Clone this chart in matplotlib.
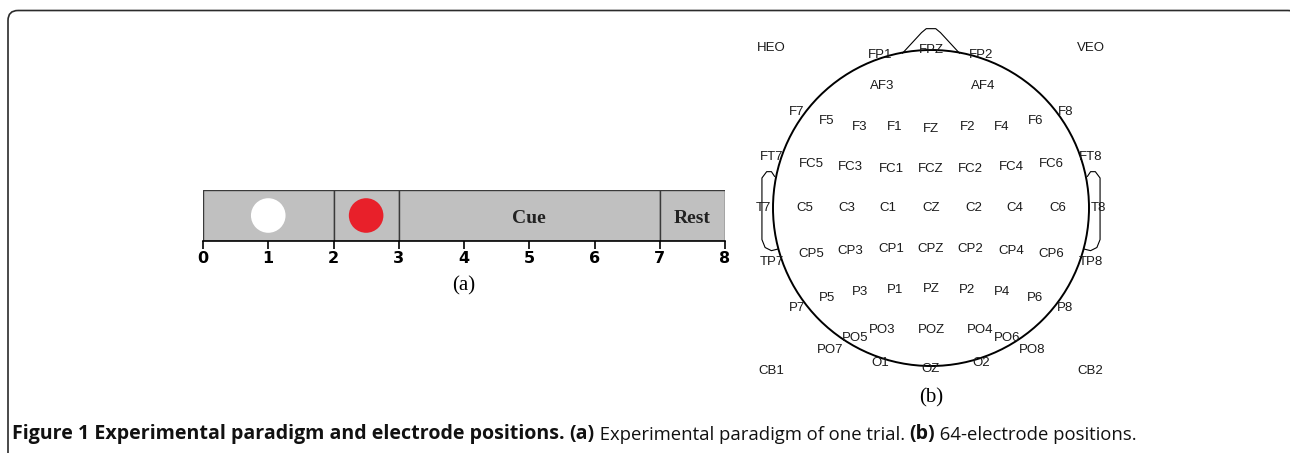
import matplotlib.pyplot as plt
from matplotlib.patches import FancyBboxPatch, Circle

# ---- panel (a): one trial timeline (seconds) ----
seg_start = [0, 2, 3, 7]
seg_width = [2, 1, 4, 1]
seg_label = ['', '', 'Cue', 'Rest']
dot_x = [1, 2.5]
dot_color = ['white', '#e8202a']
time_ticks = [0, 1, 2, 3, 4, 5, 6, 7, 8]

# ---- panel (b): electrode positions (head radius = 1) ----
elec_names = ['HEO', 'FP1', 'FPZ', 'FP2', 'VEO',
              'AF3', 'AF4',
              'F7', 'F5', 'F3', 'F1', 'FZ', 'F2', 'F4', 'F6', 'F8',
              'FT7', 'FC5', 'FC3', 'FC1', 'FCZ', 'FC2', 'FC4', 'FC6', 'FT8',
              'T7', 'C5', 'C3', 'C1', 'CZ', 'C2', 'C4', 'C6', 'T8',
              'TP7', 'CP5', 'CP3', 'CP1', 'CPZ', 'CP2', 'CP4', 'CP6', 'TP8',
              'P7', 'P5', 'P3', 'P1', 'PZ', 'P2', 'P4', 'P6', 'P8',
              'PO7', 'PO5', 'PO3', 'POZ', 'PO4', 'PO6', 'PO8',
              'CB1', 'O1', 'OZ', 'O2', 'CB2']
elec_x = [-1.01, -0.32, 0.0, 0.32, 1.01,
          -0.31, 0.33,
          -0.85, -0.66, -0.45, -0.23, 0.0, 0.23, 0.45, 0.66, 0.85,
          -1.01, -0.76, -0.51, -0.25, 0.0, 0.25, 0.51, 0.76, 1.01,
          -1.06, -0.80, -0.53, -0.27, 0.0, 0.27, 0.53, 0.80, 1.06,
          -1.01, -0.76, -0.51, -0.25, 0.0, 0.25, 0.51, 0.76, 1.01,
          -0.85, -0.66, -0.45, -0.23, 0.0, 0.23, 0.45, 0.66, 0.85,
          -0.64, -0.48, -0.31, 0.0, 0.31, 0.48, 0.64,
          -1.01, -0.32, 0.0, 0.32, 1.01]
elec_y = [1.01, 0.97, 1.00, 0.97, 1.01,
          0.77, 0.77,
          0.61, 0.55, 0.51, 0.51, 0.50, 0.51, 0.51, 0.55, 0.61,
          0.32, 0.28, 0.26, 0.25, 0.25, 0.25, 0.26, 0.28, 0.32,
          0.0, 0.0, 0.0, 0.0, 0.0, 0.0, 0.0, 0.0, 0.0,
          -0.34, -0.29, -0.27, -0.26, -0.26, -0.26, -0.27, -0.29, -0.34,
          -0.63, -0.57, -0.53, -0.52, -0.51, -0.52, -0.53, -0.57, -0.63,
          -0.90, -0.82, -0.77, -0.77, -0.77, -0.82, -0.90,
          -1.03, -0.98, -1.02, -0.98, -1.03]

# outline pieces of the head drawing
nose_x = [-0.18, -0.06, -0.03, 0.03, 0.06, 0.18]
nose_y = [0.98, 1.11, 1.135, 1.135, 1.11, 0.98]
ear_x = [-0.99, -1.01, -1.04, -1.07, -1.07, -1.05, -1.01, -0.97]
ear_y = [0.20, 0.23, 0.23, 0.19, -0.20, -0.25, -0.27, -0.26]

W, H = 1290, 453
fig = plt.figure(figsize=(W / 100, H / 100), dpi=100)

# background axes in pixel units for frame and caption
bg = fig.add_axes([0, 0, 1, 1])
bg.set_xlim(0, W)
bg.set_ylim(H, 0)
bg.axis('off')
frame = FancyBboxPatch((8, 10.5), 1290, 470,
                       boxstyle='round,pad=0,rounding_size=10',
                       fill=False, edgecolor='#2b2b2b', linewidth=1.2)
bg.add_patch(frame)

cap_font = 'Open Sans'
cap_size = {'bold': 14.1, 'normal': 13.35}
parts = [('Figure 1 Experimental paradigm and electrode positions. ', 'bold'),
         ('(a)', 'bold'),
         (' Experimental paradigm of one trial. ', 'normal'),
         ('(b)', 'bold'),
         (' 64-electrode positions.', 'normal')]
prev = bg.text(12, 439, parts[0][0], fontsize=cap_size['bold'],
               family=cap_font, fontweight='bold', va='baseline', ha='left',
               color='#111111')
for txt, wt in parts[1:]:
    prev = bg.annotate(txt, xy=(1, 0), xycoords=prev, va='bottom', ha='left',
                       fontsize=cap_size[wt], family=cap_font, fontweight=wt,
                       color='#111111')

# ---- panel (a) ----
ax = fig.add_axes([203 / W, (H - 241) / H, 522 / W, 51 / H])
ax.bar(seg_start, [1] * len(seg_start), width=seg_width, align='edge',
       color='#c0c0c0', edgecolor='#3a3a3a', linewidth=1.0)
ax.scatter(dot_x, [0.5] * len(dot_x), s=620, c=dot_color, edgecolors='none',
           zorder=3)
for s, w, lab in zip(seg_start, seg_width, seg_label):
    if lab:
        ax.text(s + w / 2, 0.45, lab, ha='center', va='center',
                family='Liberation Serif', fontweight='bold', fontsize=14,
                color='#222222')
ax.set_xlim(0, 8)
ax.set_ylim(0, 1)
ax.set_xticks(time_ticks)
ax.set_xticklabels([str(t) for t in time_ticks], fontweight='bold',
                   fontsize=11.5, family='DejaVu Sans')
ax.set_yticks([])
for side in ['top', 'left', 'right']:
    ax.spines[side].set_visible(False)
ax.spines['bottom'].set_linewidth(1.2)
ax.tick_params(axis='x', direction='out', length=6, width=1.2, pad=1.5)
ax.text(4, -0.88, '(a)', ha='center', va='center', fontsize=15,
        family='Liberation Serif', clip_on=False)

# ---- panel (b) ----
R = 158
hx = fig.add_axes([(931 - 1.2 * R) / W, (H - 208 - 1.3 * R) / H,
                   2.4 * R / W, 2.6 * R / H])
hx.set_xlim(-1.2, 1.2)
hx.set_ylim(-1.3, 1.3)
hx.axis('off')
hx.add_patch(Circle((0, 0), 1, fill=False, edgecolor='black', linewidth=1.4))
hx.plot(nose_x, nose_y, color='black', linewidth=0.8)
hx.plot(ear_x, ear_y, color='black', linewidth=0.8)
hx.plot([-v for v in ear_x], ear_y, color='black', linewidth=0.8)
for name, x, y in zip(elec_names, elec_x, elec_y):
    hx.text(x, y, name, ha='center', va='center', fontsize=9.5,
            family='Liberation Sans', color='#1a1a1a')
hx.text(0, -1.2, '(b)', ha='center', va='center', fontsize=15,
        family='Liberation Serif')

fig.savefig('out.png', dpi=100)
